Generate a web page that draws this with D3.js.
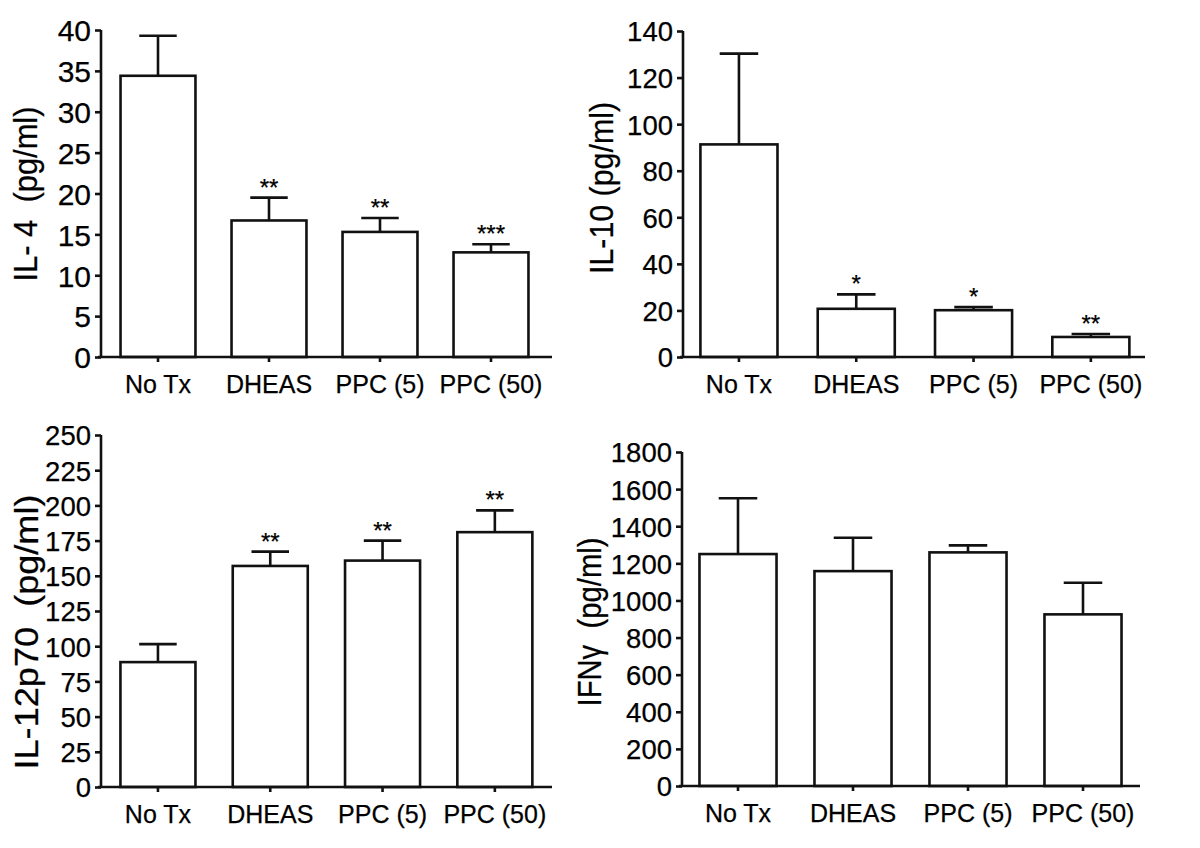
<!DOCTYPE html>
<html>
<head>
<meta charset="utf-8">
<script src="https://cdn.jsdelivr.net/npm/d3@7"></script>
<style>
  html, body { margin: 0; padding: 0; background: #fff; }
  svg text { font-family: "Liberation Sans", Arial, sans-serif; fill: #000; stroke: #000; stroke-width: 0.25px; }
  .title { white-space: pre; }
</style>
</head>
<body>
<svg id="chart" width="1200" height="848"></svg>
<script>
const categories = ["No Tx", "DHEAS", "PPC (5)", "PPC (50)"];

const il4Mean = [34.4, 16.7, 15.3, 12.8];
const il4Sem = [4.9, 2.8, 1.7, 1.0];
const il4Sig = ["", "**", "**", "***"];
const il4Ticks = [0, 5, 10, 15, 20, 25, 30, 35, 40];

const il10Mean = [91.3, 20.7, 20.1, 8.6];
const il10Sem = [39.0, 6.2, 1.3, 1.3];
const il10Sig = ["", "*", "*", "**"];
const il10Ticks = [0, 20, 40, 60, 80, 100, 120, 140];

const il12Mean = [88.7, 157, 160.8, 181];
const il12Sem = [12.8, 10.2, 14.2, 15.5];
const il12Sig = ["", "**", "**", "**"];
const il12Ticks = [0, 25, 50, 75, 100, 125, 150, 175, 200, 225, 250];

const ifnMean = [1250, 1158, 1259, 925];
const ifnSem = [301, 180, 38, 170];
const ifnSig = ["", "", "", ""];
const ifnTicks = [0, 200, 400, 600, 800, 1000, 1200, 1400, 1600, 1800];

const svg = d3.select("#chart");

// where each panel sits on the page
const panels = [
  {title: "IL- 4  (pg/ml)", mean: il4Mean, sem: il4Sem, sig: il4Sig, ticks: il4Ticks,
   left: 101, top: 30, bottom: 357, start: 102.5, step: 111, frac: 0.675, axisEnd: 552,
   titleX: 37, titleY: 194, titleLen: 175, tickFont: 30},
  {title: "IL-10 (pg/ml)", mean: il10Mean, sem: il10Sem, sig: il10Sig, ticks: il10Ticks,
   left: 683, top: 31, bottom: 357, start: 680.3, step: 117.3, frac: 0.657, axisEnd: 1145,
   titleX: 613, titleY: 188, titleLen: 172, tickFont: 27.5},
  {title: "IL-12p70  (pg/ml)", mean: il12Mean, sem: il12Sem, sig: il12Sig, ticks: il12Ticks,
   left: 101, top: 435, bottom: 787, start: 101.8, step: 112.3, frac: 0.668, axisEnd: 552,
   titleX: 38, titleY: 632, titleLen: 275, tickFont: 27.5},
  {title: "IFN\u03b3  (pg/ml)", mean: ifnMean, sem: ifnSem, sig: ifnSig, ticks: ifnTicks,
   left: 682, top: 452, bottom: 786, start: 680.5, step: 115, frac: 0.67, axisEnd: 1140,
   titleX: 601, titleY: 622, titleLen: 169, tickFont: 27.5}
];

function drawPanel(p) {
  const g = svg.append("g");
  const ymax = p.ticks[p.ticks.length - 1];
  const y = d3.scaleLinear().domain([0, ymax]).range([p.bottom, p.top]);
  const x = d3.scaleBand().domain(categories)
    .range([p.start, p.start + categories.length * p.step])
    .paddingInner(1 - p.frac).paddingOuter((1 - p.frac) / 2);

  const rows = categories.map((c, i) => ({cat: c, mean: p.mean[i], sem: p.sem[i], sig: p.sig[i]}));

  // bars
  g.selectAll("rect.bar").data(rows).join("rect")
    .attr("class", "bar")
    .attr("x", d => x(d.cat))
    .attr("y", d => y(d.mean))
    .attr("width", x.bandwidth())
    .attr("height", d => y(0) - y(d.mean))
    .attr("fill", "#fff").attr("stroke", "#111").attr("stroke-width", 2.6);

  // error bars (upper only)
  const cap = x.bandwidth() * 0.25;
  g.selectAll("path.err").data(rows).join("path")
    .attr("class", "err")
    .attr("d", d => {
      const cx = x(d.cat) + x.bandwidth() / 2;
      const yt = y(d.mean + d.sem);
      return `M${cx},${y(d.mean)}V${yt}M${cx - cap},${yt}H${cx + cap}`;
    })
    .attr("fill", "none").attr("stroke", "#111").attr("stroke-width", 2.6);

  // significance stars
  g.selectAll("text.sig").data(rows.filter(d => d.sig)).join("text")
    .attr("class", "sig")
    .attr("x", d => x(d.cat) + x.bandwidth() / 2)
    .attr("y", d => y(d.mean + d.sem) - 2)
    .attr("text-anchor", "middle")
    .style("font-size", "24px")
    .text(d => d.sig);

  // y axis
  const yAxis = g.append("g").attr("transform", `translate(${p.left},0)`)
    .call(d3.axisLeft(y).tickValues(p.ticks).tickSize(6).tickPadding(4).tickFormat(d3.format("d")));
  yAxis.selectAll("path, line").attr("stroke", "#111").attr("stroke-width", 2.6);
  yAxis.select(".domain").attr("d", `M0,${p.top}V${p.bottom}`);
  yAxis.selectAll("text").style("font-size", p.tickFont + "px").attr("fill", null)
    .attr("font-family", null).attr("dy", "0.36em");

  // x axis
  const xAxis = g.append("g").attr("transform", `translate(0,${p.bottom})`)
    .call(d3.axisBottom(x).tickSize(5).tickPadding(13));
  xAxis.selectAll("path, line").attr("stroke", "#111").attr("stroke-width", 2.6);
  xAxis.select(".domain").attr("d", `M${p.left - 3},0H${p.axisEnd}`);
  xAxis.selectAll("text").style("font-size", "25px").attr("fill", null).attr("font-family", null);

  // axis title
  g.append("text").attr("class", "title")
    .attr("transform", `translate(${p.titleX},${p.titleY}) rotate(-90)`)
    .attr("text-anchor", "middle")
    .attr("textLength", p.titleLen)
    .attr("lengthAdjust", "spacingAndGlyphs")
    .style("font-size", "33px")
    .text(p.title);
}

panels.forEach(drawPanel);
</script>
</body>
</html>
